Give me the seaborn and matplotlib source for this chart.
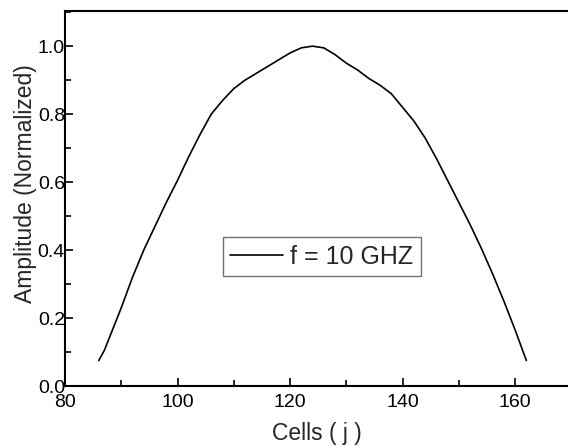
import matplotlib

matplotlib.use("Agg")
import matplotlib.pyplot as plt
import pandas as pd
import seaborn as sns
from matplotlib.ticker import FormatStrFormatter, MultipleLocator

# Amplitude profile across cells
cells = [86, 87, 90, 92, 94, 96, 98, 100, 102, 104, 106, 108, 110, 112,
         114, 116, 118, 120, 122, 124, 126, 128, 130, 132, 134, 136, 138,
         140, 142, 144, 146, 148, 150, 152, 154, 156, 158, 160, 162]
amplitude = [0.075, 0.105, 0.23, 0.32, 0.40, 0.47, 0.54, 0.605, 0.675,
             0.74, 0.80, 0.84, 0.875, 0.90, 0.92, 0.94, 0.96, 0.98, 0.995,
             1.0, 0.995, 0.975, 0.95, 0.93, 0.905, 0.885, 0.86, 0.82, 0.78,
             0.73, 0.67, 0.605, 0.54, 0.475, 0.405, 0.33, 0.25, 0.165, 0.075]
series_label = "f = 10 GHZ"

sns.set_style("white")
plt.rcParams["font.family"] = ["Liberation Sans", "DejaVu Sans"]

dataframe = pd.DataFrame({"cells": cells, "amplitude": amplitude})

figure = plt.figure(figsize=(5.68, 4.46), dpi=100)
axis = figure.add_axes([0.1144, 0.1345, 0.8856, 0.8405])

sns.lineplot(
    data=dataframe,
    x="cells",
    y="amplitude",
    color="black",
    linewidth=1.2,
    label=series_label,
    ax=axis,
)

axis.set_xlim(80, 169.4)
axis.set_ylim(0.0, 1.103)
axis.xaxis.set_major_locator(MultipleLocator(20))
axis.xaxis.set_minor_locator(MultipleLocator(10))
axis.yaxis.set_major_locator(MultipleLocator(0.2))
axis.yaxis.set_minor_locator(MultipleLocator(0.1))
axis.yaxis.set_major_formatter(FormatStrFormatter("%.1f"))

axis.tick_params(axis="both", which="both", direction="in", colors="black",
                 labelsize=14, width=1.2, bottom=True, left=True)
axis.tick_params(axis="both", which="major", length=6)
axis.tick_params(axis="both", which="minor", length=4)
axis.tick_params(axis="x", which="major", pad=6)
axis.tick_params(axis="y", which="major", pad=0)

for side in ["left", "bottom", "top"]:
    axis.spines[side].set_color("black")
    axis.spines[side].set_linewidth(1.5)
axis.spines["right"].set_visible(False)

axis.set_xlabel("Cells ( j )", fontsize=16.5, labelpad=8)
axis.set_ylabel("Amplitude (Normalized)", fontsize=16.5)
axis.yaxis.set_label_coords(-0.056, 0.54)

legend = axis.legend(
    loc="upper left",
    bbox_to_anchor=(0.314, 0.397),
    fontsize=18,
    frameon=True,
    fancybox=False,
    handlelength=2.1,
    handletextpad=0.28,
    borderpad=0.3,
    borderaxespad=0,
)
legend.get_frame().set_edgecolor("0.3")
legend.get_frame().set_linewidth(1.0)

figure.savefig("out.png", dpi=100)
plt.close()
